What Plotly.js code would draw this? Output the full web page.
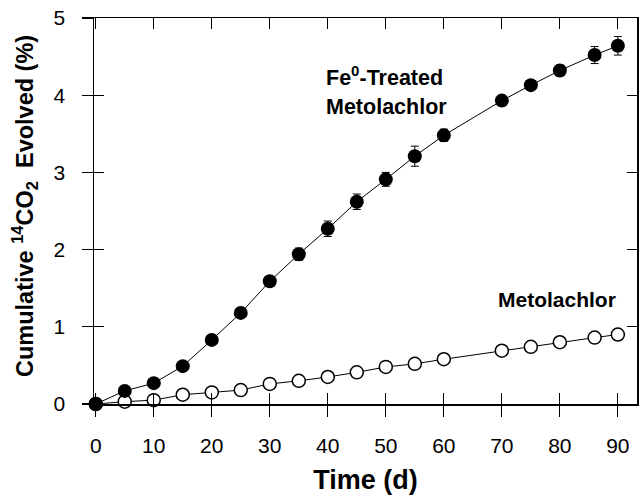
<!DOCTYPE html>
<html>
<head>
<meta charset="utf-8">
<script src="https://cdn.plot.ly/plotly-3.0.1.min.js"></script>
<style>html,body{margin:0;padding:0;background:#fff;}#chart{width:639px;height:495px;}</style>
</head>
<body>
<div id="chart"></div>
<script>
// Time (d)
var timeFe = [0, 5, 10, 15, 20, 25, 30, 35, 40, 45, 50, 55, 60, 70, 75, 80, 86, 90];
var feTreated = [0, 0.17, 0.27, 0.49, 0.83, 1.18, 1.59, 1.94, 2.27, 2.62, 2.91, 3.21, 3.48, 3.93, 4.13, 4.32, 4.52, 4.64];
var feTreatedErr = [0, 0.03, 0.03, 0.03, 0.04, 0.05, 0.05, 0.08, 0.1, 0.1, 0.09, 0.13, 0.08, 0.05, 0.06, 0.07, 0.11, 0.12];
var timeMeto = [0, 5, 10, 15, 20, 25, 30, 35, 40, 45, 50, 55, 60, 70, 75, 80, 86, 90];
var metolachlor = [0, 0.03, 0.05, 0.12, 0.15, 0.18, 0.26, 0.30, 0.35, 0.41, 0.48, 0.52, 0.58, 0.69, 0.74, 0.80, 0.86, 0.90];
var xTicks = [0, 10, 20, 30, 40, 50, 60, 70, 80, 90];
var yTicks = [0, 1, 2, 3, 4, 5];

var FONT = '"Liberation Sans", Arial, Helvetica, sans-serif';
var xr = [-0.3, 93.3];
var yr = [0, 5];

var traces = [
  // helper trace (no visible data) so the outside-tick subplot is drawn
  {x: [null], y: [null], xaxis: 'x2', yaxis: 'y2', type: 'scatter', mode: 'markers', showlegend: false, hoverinfo: 'skip'},
  {
    x: timeMeto, y: metolachlor, type: 'scatter', mode: 'lines+markers',
    line: {color: '#000', width: 1},
    marker: {size: 13, color: '#fff', line: {color: '#000', width: 1.5}},
    cliponaxis: false, showlegend: false, hoverinfo: 'skip'
  },
  {
    x: timeFe, y: feTreated, type: 'scatter', mode: 'lines+markers',
    line: {color: '#000', width: 1},
    marker: {size: 14, color: '#000'},
    error_y: {type: 'data', array: feTreatedErr, visible: true, color: '#000', thickness: 1, width: 4},
    cliponaxis: false, showlegend: false, hoverinfo: 'skip'
  }
];

var layout = {
  width: 639, height: 495,
  margin: {l: 94, r: 2, t: 18, b: 91},
  paper_bgcolor: '#fff', plot_bgcolor: 'rgba(0,0,0,0)',
  font: {family: FONT, color: '#000'},
  showlegend: false,
  xaxis: {
    domain: [0, 1], anchor: 'y',
    range: xr, tickvals: xTicks, ticks: 'inside', ticklen: 11, tickwidth: 1.2, tickcolor: '#000',
    showline: true, linewidth: 1.5, linecolor: '#000', mirror: 'ticks',
    showgrid: false, zeroline: false,
    tickfont: {size: 21, family: FONT}, ticklabelstandoff: 22,
    title: {text: '<b>Time (d)</b>', font: {size: 27, family: FONT}, standoff: 18}
  },
  yaxis: {
    domain: [0, 1], anchor: 'x',
    range: yr, tickvals: yTicks, ticks: 'inside', ticklen: 10, tickwidth: 1.2, tickcolor: '#000',
    showline: true, linewidth: 1.5, linecolor: '#000', mirror: 'ticks',
    showgrid: false, zeroline: false,
    tickfont: {size: 21, family: FONT}, ticklabelstandoff: 23
  },
  xaxis2: {
    domain: [0, 1], anchor: 'y2', side: 'bottom',
    range: xr, tickvals: xTicks, ticks: 'outside', ticklen: 12, tickwidth: 1.2, tickcolor: '#000',
    showline: false, showticklabels: false, showgrid: false, zeroline: false
  },
  yaxis2: {
    domain: [0, 1], anchor: 'x2', side: 'left',
    range: yr, tickvals: yTicks, ticks: 'outside', ticklen: 11, tickwidth: 1.2, tickcolor: '#000',
    showline: false, showticklabels: false, showgrid: false, zeroline: false
  },
  annotations: [
    {x: 0.0, xref: 'paper', xshift: -70, y: 0.5, yshift: 5, yref: 'paper', textangle: -90,
     xanchor: 'center', yanchor: 'middle',
     text: '<b>Cumulative <sup>14</sup>CO<sub>2</sub>  Evolved (%)</b>', showarrow: false,
     font: {size: 23.5, family: FONT, color: '#000'}},
    {x: 39.3, y: 4.25, xref: 'x', yref: 'y', xanchor: 'left', yanchor: 'middle', align: 'left',
     text: '<b>Fe<sup>0</sup>-Treated</b>', showarrow: false,
     font: {size: 21.5, family: FONT, color: '#000'}},
    {x: 39.3, y: 3.85, xref: 'x', yref: 'y', xanchor: 'left', yanchor: 'middle', align: 'left',
     text: '<b>Metolachlor</b>', showarrow: false,
     font: {size: 21.5, family: FONT, color: '#000'}},
    {x: 79.5, y: 1.35, xref: 'x', yref: 'y', xanchor: 'center', yanchor: 'middle',
     text: '<b>Metolachlor</b>', showarrow: false,
     font: {size: 21, family: FONT, color: '#000'}}
  ]
};

Plotly.newPlot('chart', traces, layout, {staticPlot: true, displayModeBar: false});
</script>
</body>
</html>
